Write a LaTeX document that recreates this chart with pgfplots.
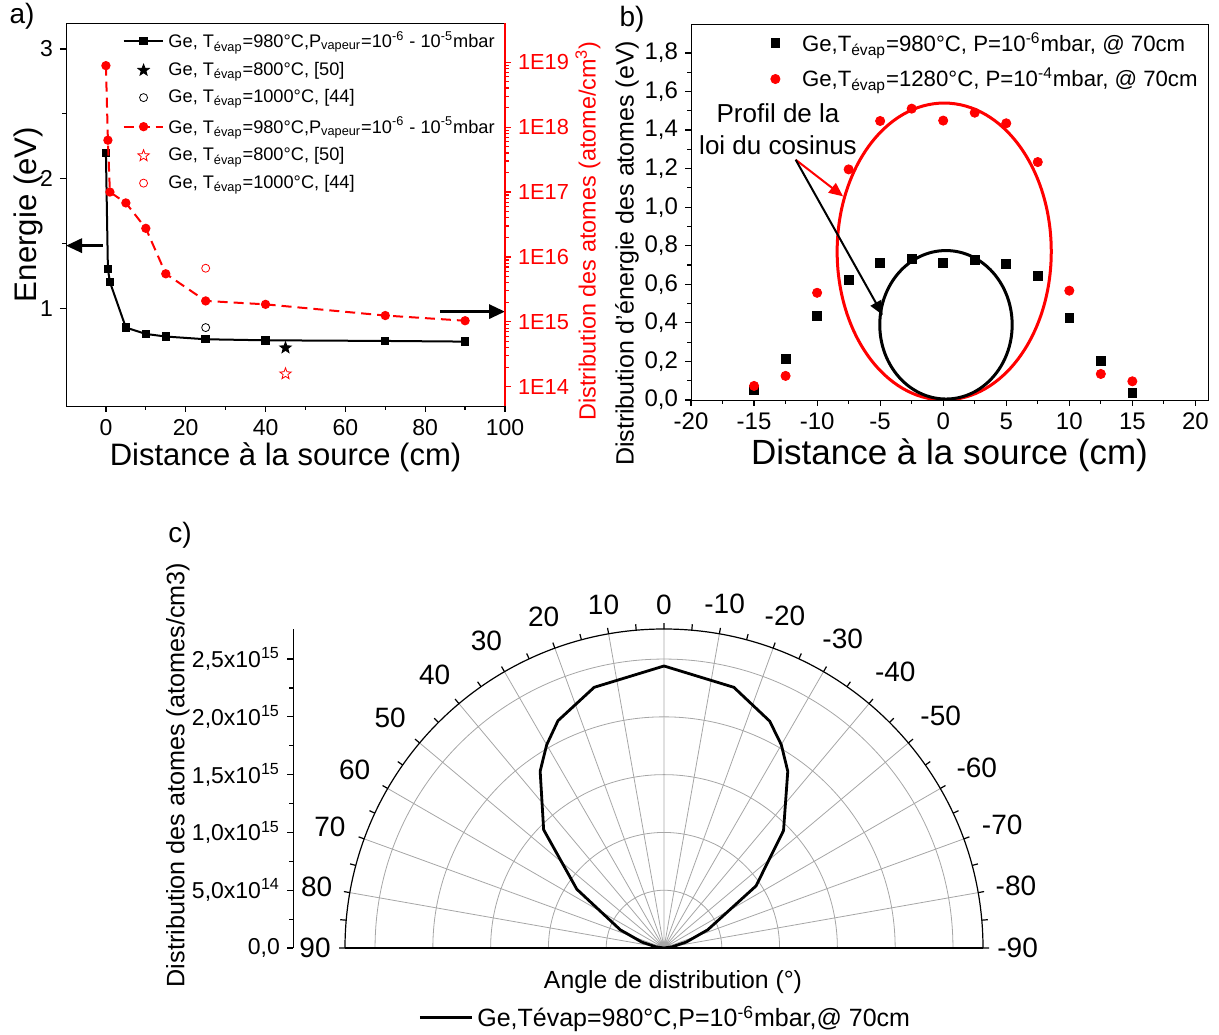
\documentclass[border=0pt]{standalone}
\usepackage{fontspec}
\setmainfont{Liberation Sans}
\usepackage{pgfplots}
\pgfplotsset{compat=1.18}
\usepgfplotslibrary{polar}
\usetikzlibrary{arrows.meta,plotmarks}
\newcommand{\fs}[1]{\fontsize{#1}{#1}\selectfont}
\pgfdeclareplotmark{starf}{%
  \pgfpathmoveto{\pgfpointpolar{90}{\pgfplotmarksize}}%
  \pgfpathlineto{\pgfpointpolar{126}{0.42\pgfplotmarksize}}%
  \pgfpathlineto{\pgfpointpolar{162}{\pgfplotmarksize}}%
  \pgfpathlineto{\pgfpointpolar{198}{0.42\pgfplotmarksize}}%
  \pgfpathlineto{\pgfpointpolar{234}{\pgfplotmarksize}}%
  \pgfpathlineto{\pgfpointpolar{270}{0.42\pgfplotmarksize}}%
  \pgfpathlineto{\pgfpointpolar{306}{\pgfplotmarksize}}%
  \pgfpathlineto{\pgfpointpolar{342}{0.42\pgfplotmarksize}}%
  \pgfpathlineto{\pgfpointpolar{18}{\pgfplotmarksize}}%
  \pgfpathlineto{\pgfpointpolar{54}{0.42\pgfplotmarksize}}%
  \pgfpathclose
  \pgfusepathqfillstroke
}
\begin{document}
\begin{tikzpicture}
\useasboundingbox (0,0) rectangle (609.5pt,517pt);
\pgfplotsset{every axis/.append style={/pgf/number format/assume math mode=true},
  every tick/.style={black, line width=0.6pt}}

% ---------------- Panel a (left axis) ----------------
\begin{axis}[
  at={(33pt,314pt)}, anchor=south west,
  scale only axis, width=219.5pt, height=191.5pt,
  xmin=-10, xmax=100, ymin=0.25, ymax=3.2,
  axis y line*=left,
  xtick={0,20,40,60,80,100}, minor x tick num=1,
  ytick={1,2,3}, minor y tick num=1,
  xtick pos=bottom, ytick pos=left, tick align=outside,
  major tick length=3pt, minor tick length=1.8pt,
  ticklabel style={font=\fs{11.5}},
  xlabel={Distance à la source (cm)}, xlabel style={font=\fs{15.5}, yshift=3pt},
  ylabel={Energie (eV)}, ylabel style={font=\fs{15.6}, at={(axis description cs:-0.0866,0.5)}, anchor=center},
  legend style={draw=none, fill=none, at={(1,1)}, anchor=north east, font=\fs{9.1}, row sep=1.6pt},
  legend cell align=left,
  legend image code/.code={\draw[mark repeat=2,mark phase=2,#1] plot coordinates {(0cm,0cm) (0.35cm,0cm) (0.7cm,0cm)};},
]
\addplot[black, line width=1pt, mark=square*, mark size=1.6pt] coordinates {
 (0,2.2) (0.5,1.305) (1,1.205) (5,0.854) (10,0.805) (15,0.785) (25,0.764) (40,0.756) (70,0.751) (90,0.746)};
\addlegendentry{Ge, T\textsubscript{évap}=980°C,P\textsubscript{vapeur}=10\textsuperscript{-6} - 10\textsuperscript{-5}mbar}
\addplot[only marks, black, mark=starf, mark size=3pt] coordinates {(45,0.698)};
\addlegendentry{Ge, T\textsubscript{évap}=800°C, [50]}
\addplot[only marks, black, mark=o, mark size=2pt] coordinates {(25,0.854)};
\addlegendentry{Ge, T\textsubscript{évap}=1000°C, [44]}
\addlegendimage{red, line width=1pt, dash pattern=on 5pt off 3pt, mark=*, mark size=1.8pt, mark options={solid}}
\addlegendentry{Ge, T\textsubscript{évap}=980°C,P\textsubscript{vapeur}=10\textsuperscript{-6} - 10\textsuperscript{-5}mbar}
\addlegendimage{only marks, red, mark=starf, mark size=3pt, mark options={fill=white}}
\addlegendentry{Ge, T\textsubscript{évap}=800°C, [50]}
\addlegendimage{only marks, red, mark=o, mark size=2pt}
\addlegendentry{Ge, T\textsubscript{évap}=1000°C, [44]}
\draw[black, line width=1.6pt, -{Triangle[length=8pt,width=7pt]}] (axis cs:-0.8,1.485) -- (axis cs:-10,1.485);
\draw[black, line width=1.6pt, -{Triangle[length=8pt,width=7pt]}] (axis cs:83.7,0.977) -- (axis cs:100,0.977);
\end{axis}

% ---------------- Panel a (right log axis) ----------------
\begin{axis}[
  at={(33pt,314pt)}, anchor=south west,
  scale only axis, width=219.5pt, height=191.5pt,
  xmin=-10, xmax=100, ymode=log, ymin=5.05e13, ymax=4.03e19,
  hide x axis, axis y line*=right,
  ytick={1e14,1e15,1e16,1e17,1e18,1e19},
  yticklabels={1E14,1E15,1E16,1E17,1E18,1E19},
  tick align=outside, major tick length=3pt, minor tick length=1.8pt,
  y axis line style={red, line width=0.6pt},
  y tick style={red}, minor y tick style={red},
  yticklabel style={red, font=\fs{10.9}},
  ylabel={Distribution des atomes (atome/cm\textsuperscript{3})},
  ylabel style={red, font=\fs{11.7}, at={(axis description cs:1.189,0.457)}, anchor=center},
]
\addplot[red, line width=1pt, dash pattern=on 5pt off 3pt, mark=*, mark size=1.8pt, mark options={solid}] coordinates {
 (0,8.87e18) (0.5,6.3e17) (1,1.0e17) (5,6.8e16) (10,2.76e16) (15,5.5e15) (25,2.1e15) (40,1.86e15) (70,1.25e15) (90,1.04e15)};
\addplot[only marks, red, mark=o, mark size=2pt] coordinates {(25,6.7e15)};
\addplot[only marks, red, mark=starf, mark size=3pt, mark options={fill=white}] coordinates {(45,1.58e14)};
\end{axis}

% ---------------- Panel b ----------------
\begin{axis}[
  at={(345.5pt,317pt)}, anchor=south west,
  scale only axis, width=258.5pt, height=188pt,
  xmin=-20, xmax=21, ymin=0, ymax=1.95,
  xtick={-20,-15,-10,-5,0,5,10,15,20}, minor x tick num=1,
  ytick={0,0.2,0.4,0.6,0.8,1.0,1.2,1.4,1.6,1.8}, minor y tick num=1,
  xtick pos=bottom, ytick pos=left, tick align=outside,
  major tick length=3pt, minor tick length=1.8pt,
  ticklabel style={font=\fs{12}},
  yticklabel style={/pgf/number format/.cd, use comma, fixed, fixed zerofill, precision=1},
  xlabel={Distance à la source (cm)}, xlabel style={font=\fs{17.5}, yshift=2.5pt},
  ylabel={Distribution d'énergie des atomes (eV)}, ylabel style={font=\fs{12.5}, at={(axis description cs:-0.124,0.39)}, anchor=center},
  legend style={draw=none, fill=none, at={(1,1)}, anchor=north east, font=\fs{11.1}, row sep=3pt,
    /tikz/every odd column/.append style={column sep=9pt}},
  legend cell align=left,
]
\addplot[only marks, black, mark=square*, mark size=2.2pt] coordinates {
 (-15,0.052) (-12.5,0.213) (-10,0.436) (-7.5,0.621) (-5,0.71) (-2.5,0.732) (0,0.713) (2.5,0.725) (5,0.704) (7.5,0.645) (10,0.427) (12.5,0.204) (15,0.036)};
\addlegendentry{Ge,T\textsubscript{évap}=980°C, P=10\textsuperscript{-6}mbar, @ 70cm}
\addplot[only marks, red, mark=*, mark size=2.3pt] coordinates {
 (-15,0.073) (-12.5,0.125) (-10,0.556) (-7.5,1.196) (-5,1.447) (-2.5,1.511) (0,1.449) (2.5,1.49) (5,1.435) (7.5,1.234) (10,0.567) (12.5,0.135) (15,0.097)};
\addlegendentry{Ge,T\textsubscript{évap}=1280°C, P=10\textsuperscript{-4}mbar, @ 70cm}
\draw[red, line width=1.5pt] (axis cs:0.08,0.77) ellipse [x radius=8.49, y radius=0.77];
\draw[black, line width=1.5pt] (axis cs:0.22,0.39) ellipse [x radius=5.25, y radius=0.385];
\draw[red, line width=1pt, -{Triangle[length=7pt,width=6pt]}] (axis cs:-11.7,1.246) -- (axis cs:-7.94,1.056);
\draw[black, line width=1pt, -{Triangle[length=7pt,width=6pt]}] (axis cs:-11.7,1.246) -- (axis cs:-4.8,0.441);
\node[align=center, font=\fs{13}, inner sep=0pt] at (axis cs:-13.1,1.406) {Profil de la\\[3pt]loi du cosinus};
\end{axis}

% ---------------- Panel c (radial scale, legend) ----------------
\begin{axis}[
  at={(146.5pt,43pt)}, anchor=south west,
  scale only axis, width=345pt, height=159.5pt,
  xmin=0, xmax=1, ymin=0, ymax=2.76,
  hide x axis, axis y line*=left,
  ytick={0,0.5,1,1.5,2,2.5}, minor y tick num=1,
  yticklabels={{0,0},{5,0x10\textsuperscript{14}},{1,0x10\textsuperscript{15}},{1,5x10\textsuperscript{15}},{2,0x10\textsuperscript{15}},{2,5x10\textsuperscript{15}}},
  tick align=outside, major tick length=3pt, minor tick length=1.8pt,
  yticklabel style={font=\fs{11.5}},
  ylabel={Distribution des atomes (atomes/cm3)}, ylabel style={font=\fs{12.6}, at={(axis description cs:-0.1667,0.542)}, anchor=center},
  legend style={draw=none, fill=none, at={(0.541,-0.219)}, anchor=center, font=\fs{12.5}},
  legend image code/.code={\draw[#1] (0pt,0pt) -- (26pt,0pt);},
]
\addlegendimage{black, line width=1.4pt}
\addlegendentry{Ge,Tévap=980°C,P=10\textsuperscript{-6}mbar,@ 70cm}
\end{axis}

\begin{polaraxis}[
  at={(332pt,43pt)}, anchor=origin,
  scale only axis, width=319pt,
  xmin=0, xmax=180, ymin=0, ymax=2.76,
  xtick={0,10,...,180},
  xticklabels={-90,-80,-70,-60,-50,-40,-30,-20,-10,0,10,20,30,40,50,60,70,80,90},
  minor x tick num=1,
  ytick={0.5,1,1.5,2,2.5}, yticklabels={},
  y tick style={draw=none},
  grid=major, major grid style={gray!70, line width=0.4pt},
  tick align=inside, major tick length=3pt, minor tick length=3pt,
  xticklabel style={font=\fs{14}, inner sep=7pt},
  axis line style={black, line width=0.6pt},
]
\addplot[black, line width=1.4pt] coordinates {
 (0,0) (8,0.07) (15,0.2) (22.6,0.41) (34,0.96) (44.5,1.45) (55,1.867) (60,2.03) (65,2.165) (75,2.335) (90,2.44)
 (105,2.335) (115,2.17) (120,2.03) (125,1.868) (135.5,1.46) (146,0.91) (157.4,0.41) (165,0.2) (172,0.07) (180,0)};
\end{polaraxis}

\node[font=\fs{12.4}] at (336.5pt,26pt) {Angle de distribution (°)};
\node[font=\fs{14}] at (11pt,509pt) {a)};
\node[font=\fs{14}] at (316pt,507.5pt) {b)};
\node[font=\fs{14}] at (90pt,249.5pt) {c)};
\end{tikzpicture}
\end{document}
